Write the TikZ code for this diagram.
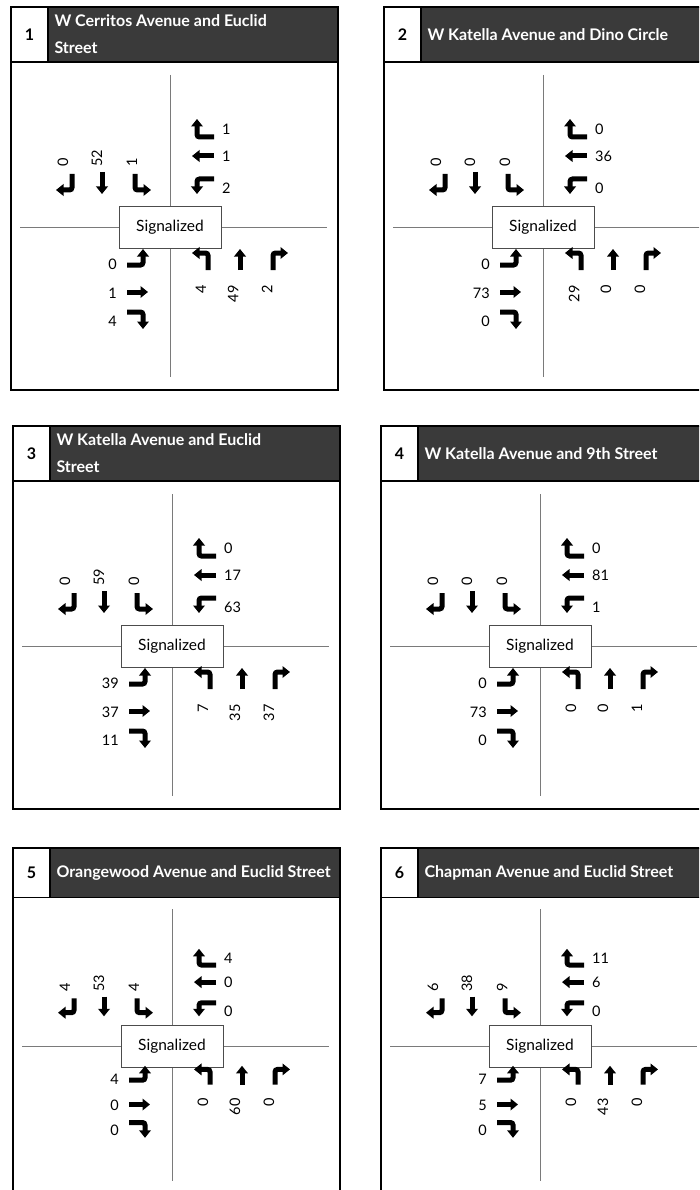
\documentclass[tikz,border=0pt]{standalone}
\usepackage{fontspec}
\setmainfont{Lato}
\usetikzlibrary{arrows.meta}
\definecolor{headfill}{HTML}{3A3A3A}
\definecolor{roadgray}{HTML}{7A7A7A}

\begin{document}
\begin{tikzpicture}[x=1pt, y=-1pt,
    panel/.style={line width=1.3pt, draw=black},
    road/.style={line width=0.9pt, roadgray},
    move/.style={line width=5pt, rounded corners=2.5pt, -{Triangle[length=7.5pt, width=11.5pt]}},
    vol/.style={inner sep=0pt, font=\fontsize{14.5}{14.5}\selectfont},
    sigbox/.style={draw=black!70, fill=white, line width=0.8pt, minimum width=102pt, minimum height=42pt, font=\fontsize{15.5}{15.5}\selectfont}]
  \path[use as bounding box, clip] (0,0) rectangle (699,1190);
  \fill[white] (0,0) rectangle (699,1190);
  % one panel per intersection: number, centre, y scale, title, then SB, WB, EB, NB volumes
  \foreach \n/\cx/\cy/\ys/\ttl/\qa/\qb/\qc/\qd/\qe/\qf/\qg/\qh/\qi/\qj/\qk/\ql in {
      1/170/227/1/{W Cerritos Avenue and Euclid\\Street}/0/52/1/1/1/2/0/1/4/4/49/2,
      2/543/227/1/{W Katella Avenue and Dino Circle}/0/0/0/0/36/0/0/73/0/29/0/0,
      3/172/646/1/{W Katella Avenue and Euclid\\Street}/0/59/0/0/17/63/39/37/11/7/35/37,
      4/540/646/1/{W Katella Avenue and 9th Street}/0/0/0/0/81/1/0/73/0/0/0/1,
      5/172/1046/0.9/{Orangewood Avenue and Euclid Street}/4/53/4/4/0/0/4/0/0/0/60/0,
      6/540/1046/0.9/{Chapman Avenue and Euclid Street}/6/38/9/11/6/0/7/5/0/0/43/0}{
    \begin{scope}[shift={(\cx,\cy)}, yscale=\ys]
      % frame and header
      \fill[headfill] (-122,-220) rectangle (168,-165);
      \draw[panel] (-159,-220) rectangle (168,163);
      \draw[panel] (-159,-165) -- (168,-165);
      \draw[panel] (-122,-220) -- (-122,-165);
      \node[font=\bfseries\fontsize{16}{16}\selectfont] (num\n) at (-140.5,-192.5) {\n};
      \node[anchor=west, text=white, align=left, font=\bfseries\fontsize{16}{27}\selectfont] (title\n) at (-119,-192.5) {\ttl};
      % streets
      \draw[road] (0,-152) -- (0,150);
      \draw[road] (-150,0) -- (157,0);
      \node[sigbox] (sig\n) at (0,0) {Signalized};
      % southbound
      \draw[move] (-98,-53) -- (-98,-37) -- (-114,-37);
      \draw[move] (-68,-55) -- (-68,-33);
      \draw[move] (-35,-53) -- (-35,-37) -- (-19,-37);
      \node[vol, rotate=90, anchor=west] (sbr\n) at (-107,-60) {\qa};
      \node[vol, rotate=90, anchor=west] (sbt\n) at (-73,-60) {\qb};
      \node[vol, rotate=90, anchor=west] (sbl\n) at (-38,-60) {\qc};
      % westbound
      \draw[move] (44,-90) -- (27,-90) -- (27,-108);
      \draw[move] (44,-71) -- (22,-71);
      \draw[move] (44,-48) -- (27,-48) -- (27,-33);
      \node[vol, anchor=west] (wbr\n) at (52,-98) {\qd};
      \node[vol, anchor=west] (wbt\n) at (52,-71) {\qe};
      \node[vol, anchor=west] (wbl\n) at (52,-39) {\qf};
      % eastbound
      \draw[move] (-43,38) -- (-27,38) -- (-27,22);
      \draw[move] (-43,65) -- (-22,65);
      \draw[move] (-43,85) -- (-27,85) -- (-27,102);
      \node[vol, anchor=east] (ebl\n) at (-53,37) {\qg};
      \node[vol, anchor=east] (ebt\n) at (-53,66) {\qh};
      \node[vol, anchor=east] (ebr\n) at (-53,94) {\qi};
      % northbound
      \draw[move] (38,43) -- (38,26) -- (22,26);
      \draw[move] (70,43) -- (70,22);
      \draw[move] (103,43) -- (103,26) -- (118,26);
      \node[vol, rotate=90, anchor=east] (nbl\n) at (31,58) {\qj};
      \node[vol, rotate=90, anchor=east] (nbt\n) at (63,58) {\qk};
      \node[vol, rotate=90, anchor=east] (nbr\n) at (97,58) {\ql};
    \end{scope}
  }
\end{tikzpicture}
\end{document}
